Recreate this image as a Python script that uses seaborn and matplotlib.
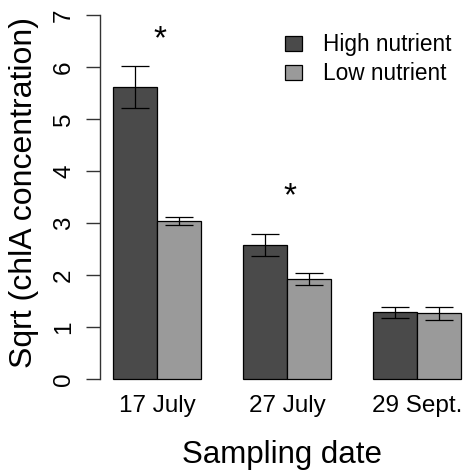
import pandas as pd
import matplotlib
matplotlib.use("Agg")
import matplotlib.pyplot as plt
import seaborn as sns

dates = ["17 July", "27 July", "29 Sept."]
treatments = ["High nutrient", "Low nutrient"]

high_mean = [5.61, 2.58, 1.28]
high_se = [0.40, 0.21, 0.10]
low_mean = [3.04, 1.92, 1.26]
low_se = [0.07, 0.11, 0.12]

# significance marks and the height they sit at
star_dates = ["17 July", "27 July"]
star_y = [6.53, 3.51]

COLORS = {"High nutrient": "#4a4a4a", "Low nutrient": "#9a9a9a"}

df = pd.DataFrame({
    "date": dates * 2,
    "treatment": [treatments[0]] * 3 + [treatments[1]] * 3,
    "value": high_mean + low_mean,
    "se": high_se + low_se,
})

sns.set_style("white")
plt.rcParams["font.family"] = ["Liberation Sans", "DejaVu Sans"]
plt.rcParams["text.color"] = "black"
plt.rcParams["xtick.color"] = "black"
plt.rcParams["ytick.color"] = "black"
plt.rcParams["axes.labelcolor"] = "black"

fig = plt.figure(figsize=(4.63, 4.71), dpi=100)
ax = fig.add_axes([0.216, 0.1898, 0.784, 0.7839])

sns.barplot(
    data=df, x="date", y="value", hue="treatment",
    order=dates, hue_order=treatments, palette=COLORS,
    width=0.67, errorbar=None, edgecolor="black", linewidth=0.9,
    saturation=1, ax=ax,
)

# error bars at the bar centres
for container, level in zip(ax.containers, treatments):
    sub = df[df["treatment"] == level].set_index("date").loc[dates]
    xs = [p.get_x() + p.get_width() / 2 for p in container.patches]
    ax.errorbar(xs, sub["value"], yerr=sub["se"], fmt="none",
                ecolor="black", elinewidth=0.9, capsize=10, capthick=0.9)

for d, y in zip(star_dates, star_y):
    ax.text(dates.index(d) + 0.02, y, "*", ha="center", va="center",
            fontsize=24, color="black")

ax.set_xlim(-0.438, 2.354)
ax.set_ylim(-0.05, 7.05)
ax.set_yticks(range(0, 8))

sns.despine(ax=ax, bottom=True)
ax.spines["left"].set_bounds(0, 7)
ax.spines["left"].set_color("#333333")
ax.spines["left"].set_linewidth(1)

ax.tick_params(axis="y", length=10, width=1, color="#333333", direction="out",
               labelsize=17.5, pad=8, left=True, labelcolor="black")
ax.tick_params(axis="x", length=0, labelsize=17.5, pad=9.5, labelcolor="black")
for lab in ax.get_yticklabels():
    lab.set_rotation(90)
    lab.set_va("center")

ax.set_xlabel("Sampling date", fontsize=22.5, labelpad=16.5)
ax.set_ylabel("Sqrt (chlA concentration)", fontsize=23)
ax.yaxis.set_label_coords(-0.209, 0.5135)
ax.yaxis.label.set_va("center")

ax.legend(frameon=False, fontsize=16.3, loc="upper left",
          bbox_to_anchor=(0.6156, 0.929), bbox_transform=fig.transFigure,
          borderpad=0, borderaxespad=0, handlelength=0.75, handleheight=0.66,
          handletextpad=0.93, labelspacing=0.25, title=None)

fig.savefig("out.png", dpi=100)
